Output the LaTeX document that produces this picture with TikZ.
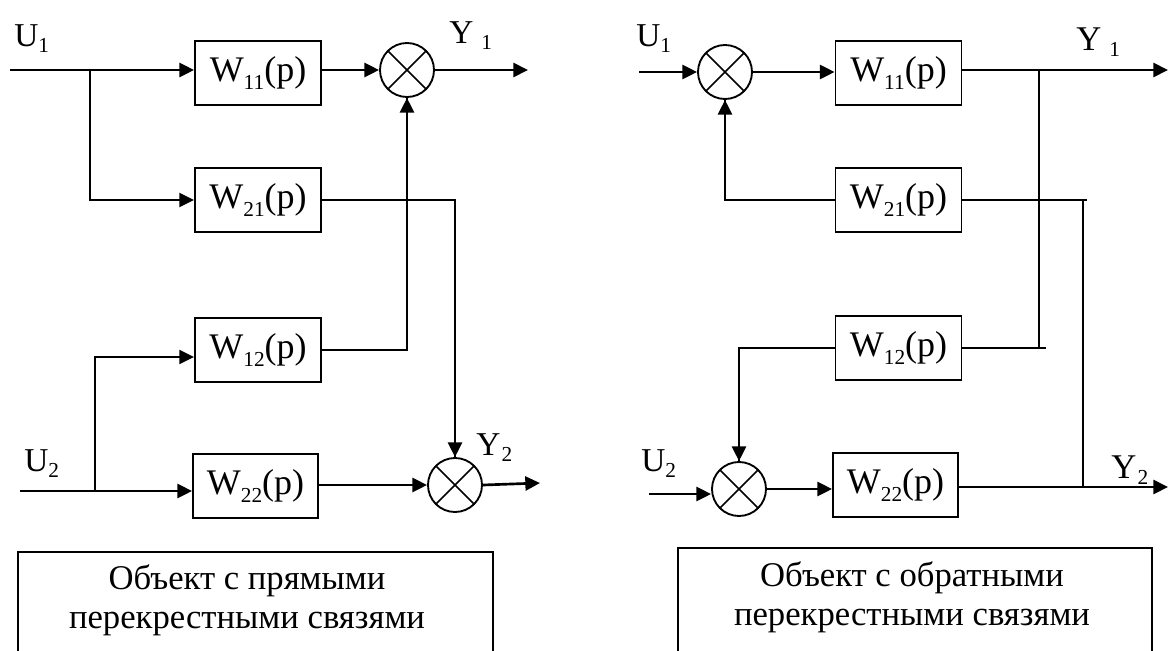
\documentclass[tikz,border=0pt]{standalone}
\usepackage{fontspec}
\setmainfont{Liberation Serif}
\usetikzlibrary{arrows.meta}
\newcommand\lowsub[1]{\raisebox{-0.22em}{\fontsize{16}{16}\selectfont #1}}
\newcommand\lblsub[1]{\raisebox{-0.2em}{\fontsize{16}{16}\selectfont #1}}
\begin{document}
\begin{tikzpicture}[x=0.75pt,y=-0.75pt,
 blk/.style={draw,line width=1.4pt,minimum width=94.5pt,minimum height=48pt,inner sep=0pt,font=\fontsize{27}{27}\selectfont},
 summ/.style={circle,draw,line width=1.4pt,minimum size=40.5pt,inner sep=0pt,
   path picture={\draw[line width=1.2pt] (path picture bounding box.north west) -- (path picture bounding box.south east)
                 (path picture bounding box.north east) -- (path picture bounding box.south west);}},
 thk/.style={line width=2pt},
 med/.style={line width=1.5pt},
 thn/.style={line width=1.1pt},
 arr/.style={-{Triangle[length=11pt,width=10.5pt]}},
 lbl/.style={font=\fontsize{25}{25}\selectfont,inner sep=0pt,anchor=base west},
 captext/.style={align=center,font=\fontsize{26}{29}\selectfont,inner sep=0pt},
 capbox/.style={draw,line width=1.4pt}]
\useasboundingbox (0,0) rectangle (1170,650);

% ---------------- left diagram ----------------
\node[blk] (W11) at (258,73) {W\lowsub{11}(p)};
\node[blk] (W21) at (258,200) {W\lowsub{21}(p)};
\node[blk] (W12) at (258,350) {W\lowsub{12}(p)};
\node[blk,minimum width=93.75pt] (W22) at (255.5,486) {W\lowsub{22}(p)};
\node[summ] (S1) at (407,70) {};
\node[summ] (S2) at (455,485) {};

\coordinate (in1) at (10,70);
\coordinate (j1) at (90,70);
\coordinate (out1) at (528,70);
\coordinate (in2) at (20,491);
\coordinate (j2) at (95,491);
\coordinate (y12) at (0,357);
\coordinate (out2) at (540,483);

\node[lbl] (U1L) at (14,46) {U\lblsub{1}};
\node[lbl] (Y1L) at (449,43) {Y\hspace{6pt}\lblsub{1}};
\node[lbl] (U2L) at (24,471) {U\lblsub{2}};
\node[lbl] (Y2L) at (476,455) {Y\hspace{1pt}\lblsub{2}};

\draw[thk,arr] (in1) -- (W11.west |- in1);
\draw[med,arr] (j1) |- (W21.west);
\draw[thk,arr] (W11.east |- S1) -- (S1.west);
\draw[thk,arr] (S1.east) -- (out1);
\draw[thn] (W21.east) -| (S2.north);
\draw[thk,arr] (S2.north |- W21.east) -- (S2.north);
\draw[thn] (W12.east) -| (S1.south);
\draw[thk,arr] (S1.south |- W12.east) -- (S1.south);
\draw[thk,arr] (in2) -- (W22.west |- in2);
\draw[med,arr] (j2) |- (W12.west |- y12);
\draw[thk,arr] (W22.east |- S2) -- (S2.west);
\draw[thk,arr] (S2.east) -- (out2);

\draw[capbox] (18,700) -- (18,552) -- (493,552) -- (493,700);
\node[captext] (capL) at (247,600) {Объект с прямыми\\перекрестными связями};

% ---------------- right diagram ----------------
\node[blk] (R11) at (898.5,73) {W\lowsub{11}(p)};
\node[blk] (R21) at (898.5,200) {W\lowsub{21}(p)};
\node[blk] (R12) at (898.5,348) {W\lowsub{12}(p)};
\node[blk,minimum width=93.75pt] (R22) at (895.5,485) {W\lowsub{22}(p)};
\node[summ] (S3) at (725,72) {};
\node[summ] (S4) at (739,489) {};

\coordinate (rin1) at (639,72);
\coordinate (rout1) at (1168,70);
\coordinate (rj1) at (1039,70);
\coordinate (rin2) at (649,494);
\coordinate (rout2) at (1168,487);
\coordinate (rj2) at (1083,487);

\node[lbl] (U1R) at (636,46) {U\lblsub{1}};
\node[lbl,font=\fontsize{26}{26}\selectfont] (Y1R) at (1076,50) {Y\hspace{6pt}\lblsub{1}};
\node[lbl] (U2R) at (641,471) {U\lblsub{2}};
\node[lbl,font=\fontsize{26}{26}\selectfont] (Y2R) at (1111,478) {Y\hspace{1pt}\lblsub{2}};

\draw[thk,arr] (rin1) -- (S3.west);
\draw[thk,arr] (S3.east) -- (R11.west |- S3);
\draw[thk,arr] (R11.east |- rout1) -- (rout1);
\draw[med] (rj1) -- (rj1 |- R12.east);
\draw[thn] (R12.east) -- ([xshift=5pt]rj1 |- R12.east);
\draw[thn] (R21.west) -| (S3.south);
\draw[thk,arr] (S3.south |- R21.west) -- (S3.south);
\draw[thn] (R21.east) -- ([xshift=3pt]rj2 |- R21.east);
\draw[med] (rj2 |- R21.east) -- (rj2);
\draw[thn] (R12.west) -| (S4.north);
\draw[thk,arr] (S4.north |- R12.west) -- (S4.north);
\draw[thk,arr] (rin2) -- (S4.west |- rin2);
\draw[thk,arr] (S4.east) -- (R22.west |- S4);
\draw[thk,arr] (R22.east |- rout2) -- (rout2);

\draw[capbox] (678,700) -- (678,548) -- (1152,548) -- (1152,700);
\node[captext] (capR) at (912,597) {Объект с обратными\\перекрестными связями};
\end{tikzpicture}
\end{document}
